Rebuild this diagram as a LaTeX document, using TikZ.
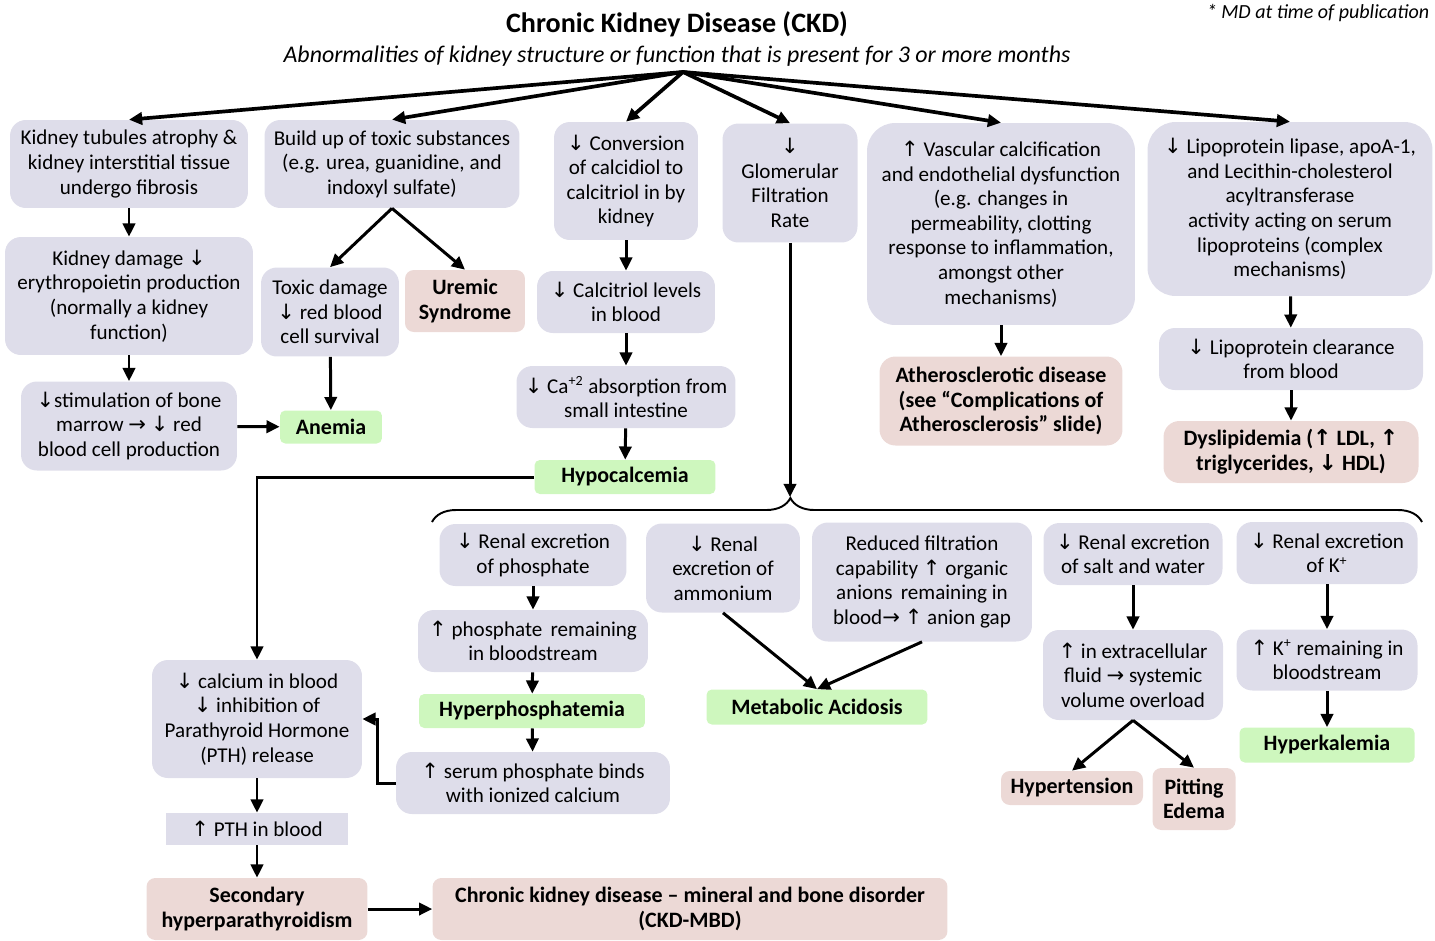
\documentclass[tikz,border=0pt]{standalone}
\usepackage{fontspec}
\setmainfont{Carlito}
\newfontfamily\arrowfont{DejaVu Sans}
\usetikzlibrary{arrows.meta,decorations.pathreplacing}
\definecolor{lav}{RGB}{222,221,234}
\definecolor{rose}{RGB}{236,217,214}
\definecolor{mint}{RGB}{206,247,190}
\newcommand{\dnar}{{\arrowfont ↓}}
\newcommand{\upar}{{\arrowfont ↑}}
\newcommand{\rtar}{{\arrowfont →}}

\begin{document}
\begin{tikzpicture}[x=0.02cm, y=-0.02cm,
  every node/.style={align=center, inner sep=2pt, font=\fontsize{12}{14}\selectfont},
  box/.style={fill=lav, rounded corners=9pt},
  pinkbox/.style={fill=rose, rounded corners=5pt, font=\fontsize{12.5}{14}\selectfont\bfseries},
  greenbox/.style={fill=mint, rounded corners=3pt, font=\fontsize{12.5}{14}\selectfont\bfseries},
  sz/.style 2 args={minimum width=#1cm, minimum height=#2cm},
  arr/.style={-{Triangle[length=7.5pt,width=7pt]}, line width=1.7pt},
  toparr/.style={arr, line width=2.1pt}]

  \useasboundingbox (0,0) rectangle (1435,940);

  % Titulo
  \node[font=\fontsize{16}{19}\selectfont\bfseries] (title) at (677,24) {Chronic Kidney Disease (CKD)};
  \node[font=\fontsize{13.6}{16}\selectfont\itshape] (subtitle) at (677,56) {Abnormalities of kidney structure or function that is present for 3 or more months};
  \node[anchor=east, font=\fontsize{11.4}{13}\selectfont\itshape] (note) at (1433,13) {* MD at time of publication};
  \coordinate (root) at (683,72);

  % Primera fila
  \node[box, sz={4.76}{1.76}] (fibrosis) at (129,164) {Kidney tubules atrophy \&\\ kidney interstitial tissue\\ undergo fibrosis};
  \node[box, sz={5.1}{1.76}] (toxic) at (392,164) {Build up of toxic substances\\ (e.g. urea, guanidine, and\\ indoxyl sulfate)};
  \node[box, sz={2.88}{2.36}] (conv) at (626,181) {\dnar{} Conversion\\ of calcidiol to\\ calcitriol in by\\ kidney};
  \node[box, sz={2.7}{2.38}] (gfr) at (790,183) {\dnar\\ Glomerular\\ Filtration\\ Rate};
  \node[box, sz={5.36}{4.04}, rounded corners=16pt] (vasc) at (1001,224) {\upar{} Vascular calcification\\ and endothelial dysfunction\\ (e.g. changes in\\ permeability, clotting\\ response to inflammation,\\ amongst other\\ mechanisms)};
  \node[box, sz={5.7}{3.48}, rounded corners=16pt] (lipase) at (1290,209) {\dnar{} Lipoprotein lipase, apoA-1,\\ and Lecithin-cholesterol\\ acyltransferase\\ activity acting on serum\\ lipoproteins (complex\\ mechanisms)};

  % Anemia
  \node[box, sz={4.96}{2.36}] (epo) at (129,296) {Kidney damage \dnar\\ erythropoietin production\\ (normally a kidney\\ function)};
  \node[box, sz={4.32}{1.78}] (marrow) at (129,426) {\dnar stimulation of bone\\ marrow \rtar{} \dnar{} red\\ blood cell production};
  \node[box, sz={2.76}{1.78}] (toxdmg) at (330,312) {Toxic damage\\ \dnar{} red blood\\ cell survival};
  \node[pinkbox, sz={2.4}{1.24}] (uremic) at (465,301) {Uremic\\ Syndrome};
  \node[greenbox, sz={2.04}{0.66}] (anemia) at (331,427) {Anemia};

  % Hipocalcemia
  \node[box, sz={3.56}{1.24}] (calcitriol) at (626,302) {\dnar{} Calcitriol levels\\ in blood};
  \node[box, sz={4.38}{1.24}] (absorb) at (626,397) {\dnar{} Ca\textsuperscript{+2} absorption from\\ small intestine};
  \node[greenbox, sz={3.62}{0.68}] (hypocal) at (625,477) {Hypocalcemia};

  % Aterosclerosis y dislipidemia
  \node[pinkbox, sz={4.86}{1.78}, rounded corners=9pt] (athero) at (1001,401) {Atherosclerotic disease\\ (see “Complications of\\ Atherosclerosis” slide)};
  \node[box, sz={5.28}{1.24}] (clear) at (1291,359) {\dnar{} Lipoprotein clearance\\ from blood};
  \node[pinkbox, sz={5.1}{1.24}, rounded corners=9pt] (dyslip) at (1291,452) {Dyslipidemia (\upar{} LDL, \upar\\ triglycerides, \dnar{} HDL)};

  % Debajo de la llave
  \node[box, sz={3.74}{1.24}] (phos1) at (533,555) {\dnar{} Renal excretion\\ of phosphate};
  \node[box, sz={4.6}{1.24}] (phos2) at (533,641) {\upar{} phosphate\, remaining\\ in bloodstream};
  \node[greenbox, sz={4.52}{0.68}] (hyperphos) at (532,711) {Hyperphosphatemia};
  \node[box, sz={5.48}{1.24}] (phos3) at (533,783) {\upar{} serum phosphate binds\\ with ionized calcium};
  \node[box, sz={3.08}{1.78}] (ammon) at (723,568) {\dnar{} Renal\\ excretion of\\ ammonium};
  \node[box, sz={4.4}{2.38}] (anion) at (922,582) {Reduced filtration\\ capability \upar{} organic\\ anions\, remaining in\\ blood\rtar{} \upar{} anion gap};
  \node[greenbox, sz={4.42}{0.7}] (metab) at (817,707) {Metabolic Acidosis};
  \node[box, sz={3.58}{1.24}] (salt) at (1133,554) {\dnar{} Renal excretion\\ of salt and water};
  \node[box, sz={3.6}{1.8}] (ecf) at (1133,675) {\upar{} in extracellular\\ fluid \rtar{} systemic\\ volume overload};
  \node[pinkbox, sz={2.84}{0.68}] (hypert) at (1072,788) {Hypertension};
  \node[pinkbox, sz={1.66}{1.24}] (edema) at (1194,799) {Pitting\\ Edema};
  \node[box, sz={3.62}{1.24}] (kexc) at (1327,553) {\dnar{} Renal excretion\\ of K\textsuperscript{+}};
  \node[box, sz={3.62}{1.22}] (krem) at (1327,660) {\upar{} K\textsuperscript{+} remaining in\\ bloodstream};
  \node[greenbox, sz={3.5}{0.7}] (hyperk) at (1327,745) {Hyperkalemia};

  % PTH
  \node[box, sz={4.2}{2.36}] (calcium) at (257,719) {\dnar{} calcium in blood\\ \dnar{} inhibition of\\ Parathyroid Hormone\\ (PTH) release};
  \node[fill=lav, sz={3.64}{0.64}] (pth) at (257,829) {\upar{} PTH in blood};
  \node[pinkbox, sz={4.42}{1.24}] (secondary) at (257,909) {Secondary\\ hyperparathyroidism};
  \node[pinkbox, sz={10.3}{1.24}] (mbd) at (690,909) {Chronic kidney disease -- mineral and bone disorder\\ (CKD-MBD)};

  % Flechas desde el titulo
  \draw[toparr] (root) -- (fibrosis.north);
  \draw[toparr] (root) -- (toxic.north);
  \draw[toparr] (root) -- (conv.north);
  \draw[toparr] (root) -- (gfr.north);
  \draw[toparr] (root) -- (vasc.north);
  \draw[toparr] (root) -- (lipase.north);

  % Flechas de la parte superior
  \draw[arr] (fibrosis) -- (epo);
  \draw[arr] (epo) -- (marrow);
  \draw[arr] (marrow) -- (anemia);
  \draw[arr] (toxic.south) -- (toxdmg.north);
  \draw[arr] (toxic.south) -- (uremic.north);
  \draw[arr] (toxdmg) -- (anemia);
  \draw[arr] (conv) -- (calcitriol);
  \draw[arr] (calcitriol) -- (absorb);
  \draw[arr] (absorb) -- (hypocal);
  \draw[arr] (vasc) -- (athero);
  \draw[arr] (lipase) -- (clear);
  \draw[arr] (clear) -- (dyslip);

  % Llave bajo la TFG
  \coordinate (gfrtip) at (790,497);
  \draw[arr] (gfr.south) -- (gfrtip);
  \draw[line width=1.1pt, decorate, decoration={brace, amplitude=0.48cm, aspect=0.362}] (432,522) -- (1422,522);

  % Flechas de la parte inferior
  \draw[arr] (hypocal.west) -| (calcium.north);
  \draw[arr] (phos1) -- (phos2);
  \draw[arr] (phos2) -- (hyperphos);
  \draw[arr] (hyperphos) -- (phos3);
  \draw[arr] (phos3.west) -- ++(-18,0) |- (calcium.east);
  \draw[arr] (calcium) -- (pth);
  \draw[arr] (pth) -- (secondary);
  \draw[arr] (secondary) -- (mbd);
  \draw[arr] (ammon.south) -- (metab.north);
  \draw[arr] (anion.south) -- (metab.north);
  \draw[arr] (salt) -- (ecf);
  \draw[arr] (ecf.south) -- (hypert.north);
  \draw[arr] (ecf.south) -- (edema.north);
  \draw[arr] (kexc) -- (krem);
  \draw[arr] (krem) -- (hyperk);

\end{tikzpicture}
\end{document}
